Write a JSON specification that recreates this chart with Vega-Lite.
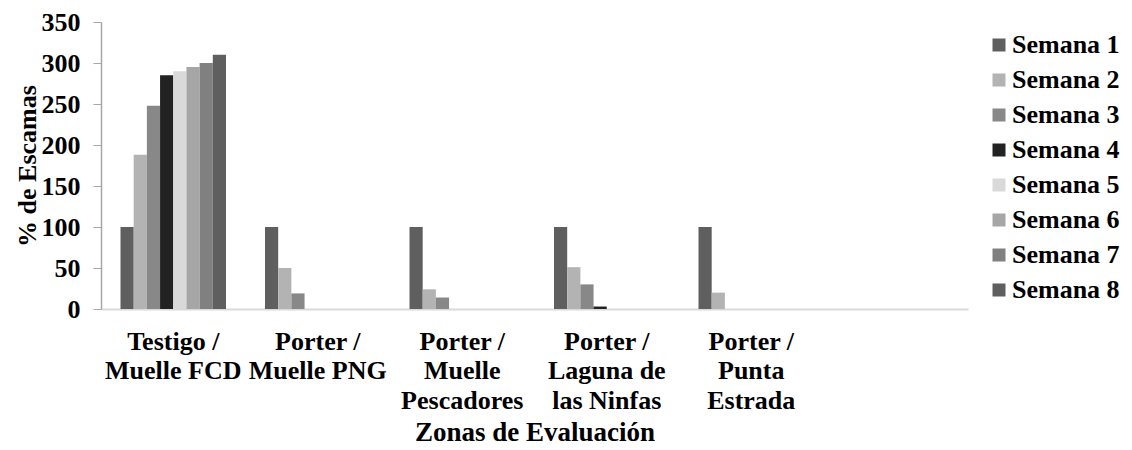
{
  "$schema": "https://vega.github.io/schema/vega-lite/v6.json",
  "width": 867,
  "height": 287,
  "autosize": {"type": "none"},
  "padding": {"left": 101, "top": 22, "right": 164, "bottom": 141},
  "background": "white",
  "config": {
    "view": {"stroke": null},
    "font": "Liberation Serif"
  },
  "data": {
    "values": [
      {"zona": "Testigo /|Muelle FCD", "semana": "Semana 1", "valor": 100},
      {"zona": "Testigo /|Muelle FCD", "semana": "Semana 2", "valor": 188},
      {"zona": "Testigo /|Muelle FCD", "semana": "Semana 3", "valor": 248},
      {"zona": "Testigo /|Muelle FCD", "semana": "Semana 4", "valor": 285},
      {"zona": "Testigo /|Muelle FCD", "semana": "Semana 5", "valor": 290},
      {"zona": "Testigo /|Muelle FCD", "semana": "Semana 6", "valor": 295},
      {"zona": "Testigo /|Muelle FCD", "semana": "Semana 7", "valor": 300},
      {"zona": "Testigo /|Muelle FCD", "semana": "Semana 8", "valor": 310},
      {"zona": "Porter /|Muelle PNG", "semana": "Semana 1", "valor": 100},
      {"zona": "Porter /|Muelle PNG", "semana": "Semana 2", "valor": 50},
      {"zona": "Porter /|Muelle PNG", "semana": "Semana 3", "valor": 19},
      {"zona": "Porter /|Muelle|Pescadores", "semana": "Semana 1", "valor": 100},
      {"zona": "Porter /|Muelle|Pescadores", "semana": "Semana 2", "valor": 24},
      {"zona": "Porter /|Muelle|Pescadores", "semana": "Semana 3", "valor": 14},
      {"zona": "Porter /|Laguna de|las Ninfas", "semana": "Semana 1", "valor": 100},
      {"zona": "Porter /|Laguna de|las Ninfas", "semana": "Semana 2", "valor": 51},
      {"zona": "Porter /|Laguna de|las Ninfas", "semana": "Semana 3", "valor": 30},
      {"zona": "Porter /|Laguna de|las Ninfas", "semana": "Semana 4", "valor": 3},
      {"zona": "Porter /|Punta|Estrada", "semana": "Semana 1", "valor": 100},
      {"zona": "Porter /|Punta|Estrada", "semana": "Semana 2", "valor": 20}
    ]
  },
  "mark": {"type": "bar"},
  "encoding": {
    "x": {
      "field": "zona",
      "type": "nominal",
      "scale": {
        "domain": ["Testigo /|Muelle FCD", "Porter /|Muelle PNG", "Porter /|Muelle|Pescadores", "Porter /|Laguna de|las Ninfas", "Porter /|Punta|Estrada", " "],
        "paddingInner": 0.27,
        "paddingOuter": 0.135
      },
      "axis": {
        "title": "Zonas de Evaluación",
        "titleFont": "Liberation Serif",
        "titleFontSize": 27,
        "titleFontWeight": "bold",
        "titleColor": "#000000",
        "titlePadding": 6,
        "labelExpr": "split(datum.value, '|')",
        "labelAngle": 0,
        "labelFont": "Liberation Serif",
        "labelFontSize": 26,
        "labelFontWeight": "bold",
        "labelColor": "#000000",
        "labelLineHeight": 29.5,
        "labelPadding": 19,
        "labelBaseline": "top",
        "labelOverlap": false,
        "ticks": false,
        "domainColor": "#d9d9d9",
        "domainWidth": 2,
        "grid": false
      }
    },
    "xOffset": {
      "field": "semana",
      "type": "nominal",
      "scale": {"domain": ["Semana 1", "Semana 2", "Semana 3", "Semana 4", "Semana 5", "Semana 6", "Semana 7", "Semana 8"], "paddingInner": 0, "paddingOuter": 0}
    },
    "y": {
      "field": "valor",
      "type": "quantitative",
      "scale": {"domain": [0, 350], "nice": false},
      "axis": {
        "title": "% de Escamas",
        "titleFont": "Liberation Serif",
        "titleFontSize": 26,
        "titleFontWeight": "bold",
        "titleColor": "#000000",
        "titlePadding": 1,
        "values": [0, 50, 100, 150, 200, 250, 300, 350],
        "labelFont": "Liberation Serif",
        "labelFontSize": 26,
        "labelFontWeight": "bold",
        "labelColor": "#000000",
        "labelPadding": 13,
        "tickSize": 8,
        "tickColor": "#a6a6a6",
        "domainColor": "#a6a6a6",
        "domainWidth": 1.5,
        "grid": false
      }
    },
    "color": {
      "field": "semana",
      "type": "nominal",
      "scale": {
        "domain": ["Semana 1", "Semana 2", "Semana 3", "Semana 4", "Semana 5", "Semana 6", "Semana 7", "Semana 8"],
        "range": ["#5f5f5f", "#b3b3b3", "#888888", "#222222", "#d9d9d9", "#a6a6a6", "#808080", "#5f5f5f"]
      },
      "legend": {
        "title": null,
        "orient": "none",
        "legendX": 885,
        "legendY": 10,
        "symbolType": "square",
        "symbolSize": 169,
        "symbolStrokeWidth": 0,
        "labelFont": "Liberation Serif",
        "labelFontSize": 26,
        "labelFontWeight": "bold",
        "labelColor": "#000000",
        "labelOffset": 0,
        "rowPadding": 9
      }
    }
  }
}
